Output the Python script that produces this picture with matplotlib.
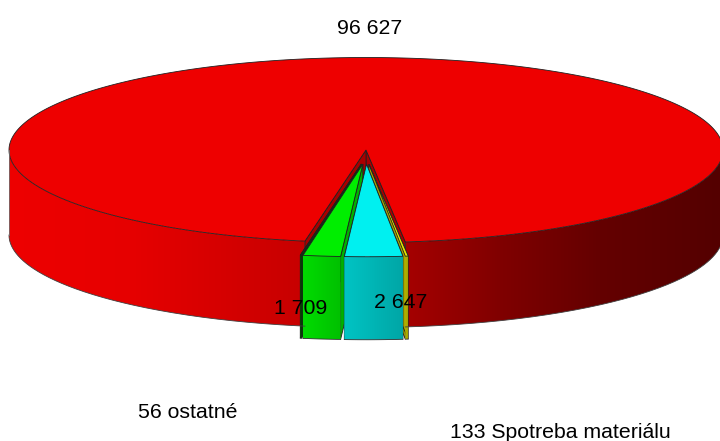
import numpy as np
import matplotlib
matplotlib.use("Agg")
import matplotlib.pyplot as plt
from matplotlib.patches import Polygon
from matplotlib.colors import to_rgb

plt.rcParams['font.family'] = ['Liberation Sans', 'DejaVu Sans']

# data, in order of increasing screen position along the front of the pie
names = ["ostatné", "", "", "Spotreba materiálu", ""]
values = [56, 1709, 2647, 133, 96627]
top_colors = ["#006000", "#00ee00", "#00f0f0", "#e6e600", "#ee0000"]
wall_colors = ["#004800", "#00b000", "#00a5a5", "#a8a800", "#a80000"]
side_light = ["#005000", "#00dc00", "#00c4c4", "#b8b800", "#ee0000"]
side_dark = ["#004000", "#00c000", "#00a6a6", "#a0a000", "#500000"]

# horizontal shading of the big slice's outer side
shade_x = [9, 130, 300, 410, 500, 600, 720]
shade_c = ["#ee0000", "#e60000", "#c80000", "#a40000", "#800000", "#640000", "#540000"]

W, H = 720, 441
fig = plt.figure(figsize=(W / 100, H / 100), dpi=100)
ax = fig.add_axes([0, 0, 1, 1])

cx, cy, rx, ry, depth = 366.0, 150.0, 357.0, 92.5, 85.0
small_depth = 83.0
explode = 55.0
start = -9.85
sweeps = 360.0 * np.array(values) / sum(values)
edges = start + np.concatenate([[0], np.cumsum(sweeps)])


def rim(phi, dx=0.0, dy=0.0):
    p = np.radians(phi)
    return cx + dx + rx * np.sin(p), cy + dy + ry * np.cos(p)


def side(a, b, dx, dy, d, xs_stop, cs_stop, outline):
    phis = np.linspace(a, b, max(8, int(abs(b - a) * 3)))
    xs, ys = rim(phis, dx, dy)
    pts = list(zip(xs, ys)) + list(zip(xs[::-1], ys[::-1] + d))
    patch = Polygon(pts, closed=True, fc="none", ec="none")
    ax.add_patch(patch)
    rgb = np.array([to_rgb(c) for c in cs_stop])
    grid = np.linspace(xs.min(), xs.max(), 400)
    img = np.stack([np.interp(grid, xs_stop, rgb[:, k]) for k in range(3)], axis=-1)[None, :, :]
    im = ax.imshow(img, extent=(xs.min(), xs.max(), ys.max() + d, ys.min()),
                   aspect="auto", interpolation="bilinear", zorder=patch.get_zorder())
    im.set_clip_path(patch)
    ax.plot(xs, ys + d, color=outline, lw=0.6)


def wall(phi, dx, dy, d, color):
    x, y = rim(phi, dx, dy)
    ax0, ay0 = cx + dx, cy + dy
    ax.add_patch(Polygon([(ax0, ay0), (x, y), (x, y + d), (ax0, ay0 + d)],
                         closed=True, fc=color, ec="#202020", lw=0.6))


def top(a, b, dx, dy, color):
    phis = np.linspace(a, b, max(4, int(abs(b - a) * 2)))
    xs, ys = rim(phis, dx, dy)
    pts = [(cx + dx, cy + dy)] + list(zip(xs, ys))
    ax.add_patch(Polygon(pts, closed=True, fc=color, ec="#202020", lw=0.6))


# big slice first
big = len(values) - 1
a, b = edges[big], edges[big + 1]
side(a, 90, 0, 0, depth, shade_x, shade_c, "#404040")
side(-90, start, 0, 0, depth, shade_x, shade_c, "#404040")
left_x, left_y = rim(-90)
ax.plot([left_x, left_x], [left_y, left_y + depth], color="#707070", lw=0.6)
wall(a, 0, 0, depth, wall_colors[big])
wall(b, 0, 0, depth, wall_colors[big])
top(a, b, 0, 0, top_colors[big])

# small slices, painted from the outside inwards
for i in [3, 0, 1, 2]:
    a, b = edges[i], edges[i + 1]
    mid = np.radians((a + b) / 2)
    dx = 0.5 * explode * np.sin(mid)
    dy = explode * ry / rx * np.cos(mid)
    wall(a, dx, dy, small_depth, wall_colors[i])
    wall(b, dx, dy, small_depth, wall_colors[i])
    x0, _ = rim(a, dx, dy)
    x1, _ = rim(b, dx, dy)
    side(a, b, dx, dy, small_depth, [x0, x1], [side_light[i], side_dark[i]], "#303030")
    top(a, b, dx, dy, top_colors[i])

ax.set_xlim(0, W)
ax.set_ylim(H, 0)
ax.axis("off")

fs = 15.3
ax.text(370, 28, f"{values[4]:,}".replace(",", " "), ha="center", va="center", fontsize=fs)
ax.text(301, 309, f"{values[1]:,}".replace(",", " "), ha="center", va="center", fontsize=fs)
ax.text(401, 302, f"{values[2]:,}".replace(",", " "), ha="center", va="center", fontsize=fs)
ax.text(188, 412, f"{values[0]} {names[0]}", ha="center", va="center", fontsize=fs)
ax.text(560, 432, f"{values[3]} {names[3]}", ha="center", va="center", fontsize=fs)

fig.savefig("out.png", dpi=100, facecolor="white")
